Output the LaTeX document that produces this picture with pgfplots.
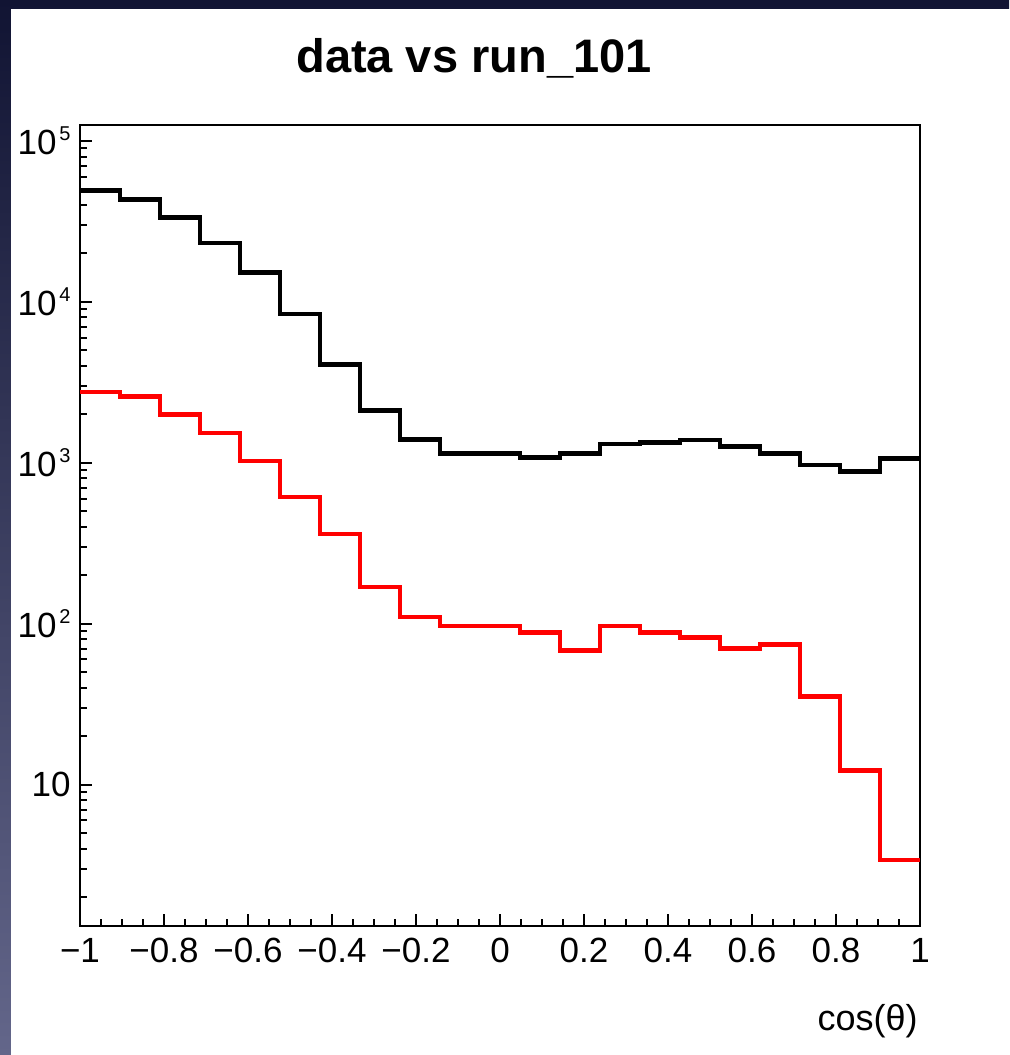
\documentclass[border=0pt]{standalone}
\usepackage{fontspec}
\setmainfont{Liberation Sans}
\usepackage{pgfplots}
\pgfplotsset{compat=1.18}
\definecolor{bgtop}{HTML}{111433}
\definecolor{bgbot}{HTML}{63668A}
\begin{document}
\begin{tikzpicture}
\useasboundingbox (0,0) rectangle (504.5pt,527.5pt);
\shade[top color=bgtop, bottom color=bgbot] (0,0) rectangle (504.5pt,527.5pt);
\fill[white] (5.5pt,-2pt) rectangle (507pt,523pt);
\begin{axis}[
  at={(40pt,64.5pt)}, anchor=south west,
  scale only axis, width=420pt, height=400.5pt,
  xmin=-1, xmax=1,
  ymode=log, ymin=1.325, ymax=1.256e5,
  axis line style={line width=1.2pt},
  tick style={line width=1pt, black},
  tick align=inside, tick pos=left,
  major tick length=6pt, minor tick length=3.5pt,
  xtick={-1,-0.8,-0.6,-0.4,-0.2,0,0.2,0.4,0.6,0.8,1},
  xticklabels={−1,−0.8,−0.6,−0.4,−0.2,0,0.2,0.4,0.6,0.8,1},
  minor x tick num=3,
  yticklabel={\pgfmathtruncatemacro{\ee}{round(\tick/2.302585)}\ifnum\ee=1 10\else 10\kern1.5pt\raisebox{7pt}{\fontsize{10}{10}\selectfont\ee}\fi},
  tick label style={font=\fontsize{17.5}{20}\selectfont},
  xticklabel style={inner sep=0pt, yshift=-6pt},
  yticklabel style={inner sep=0pt, xshift=-4.5pt},
  title={data vs run\_101},
  title style={at={(axis description cs:0.469,1)}, anchor=base, yshift=20pt, inner sep=0pt,
    font=\bfseries\fontsize{23.5}{28}\selectfont},
  xlabel={cos(θ)},
  xlabel style={at={(axis description cs:1,0)}, anchor=base east, yshift=-52pt, xshift=-1pt, inner sep=0pt,
    font=\fontsize{18}{21}\selectfont},
]
\addplot[const plot, black, line width=2.3pt, line join=miter] coordinates {
(-1.000000,49400) (-0.904762,43300) (-0.809524,33400) (-0.714286,23200)
(-0.619048,15200) (-0.523810,8400) (-0.428571,4090) (-0.333333,2120)
(-0.238095,1395) (-0.142857,1140) (-0.047619,1140) (0.047619,1075)
(0.142857,1140) (0.238095,1306) (0.333333,1340) (0.428571,1384)
(0.523810,1260) (0.619048,1140) (0.714286,968) (0.809524,880)
(0.904762,1065) (1.000000,1065)
};
\addplot[const plot, red, line width=2.3pt, line join=miter] coordinates {
(-1.000000,2760) (-0.904762,2590) (-0.809524,1995) (-0.714286,1530)
(-0.619048,1025) (-0.523810,612) (-0.428571,361) (-0.333333,169)
(-0.238095,110) (-0.142857,97) (-0.047619,97) (0.047619,88.5)
(0.142857,68) (0.238095,97) (0.333333,88.5) (0.428571,82.4)
(0.523810,70.3) (0.619048,74.5) (0.714286,35.2) (0.809524,12.3)
(0.904762,3.4) (1.000000,3.4)
};
\end{axis}
\end{tikzpicture}
\end{document}
